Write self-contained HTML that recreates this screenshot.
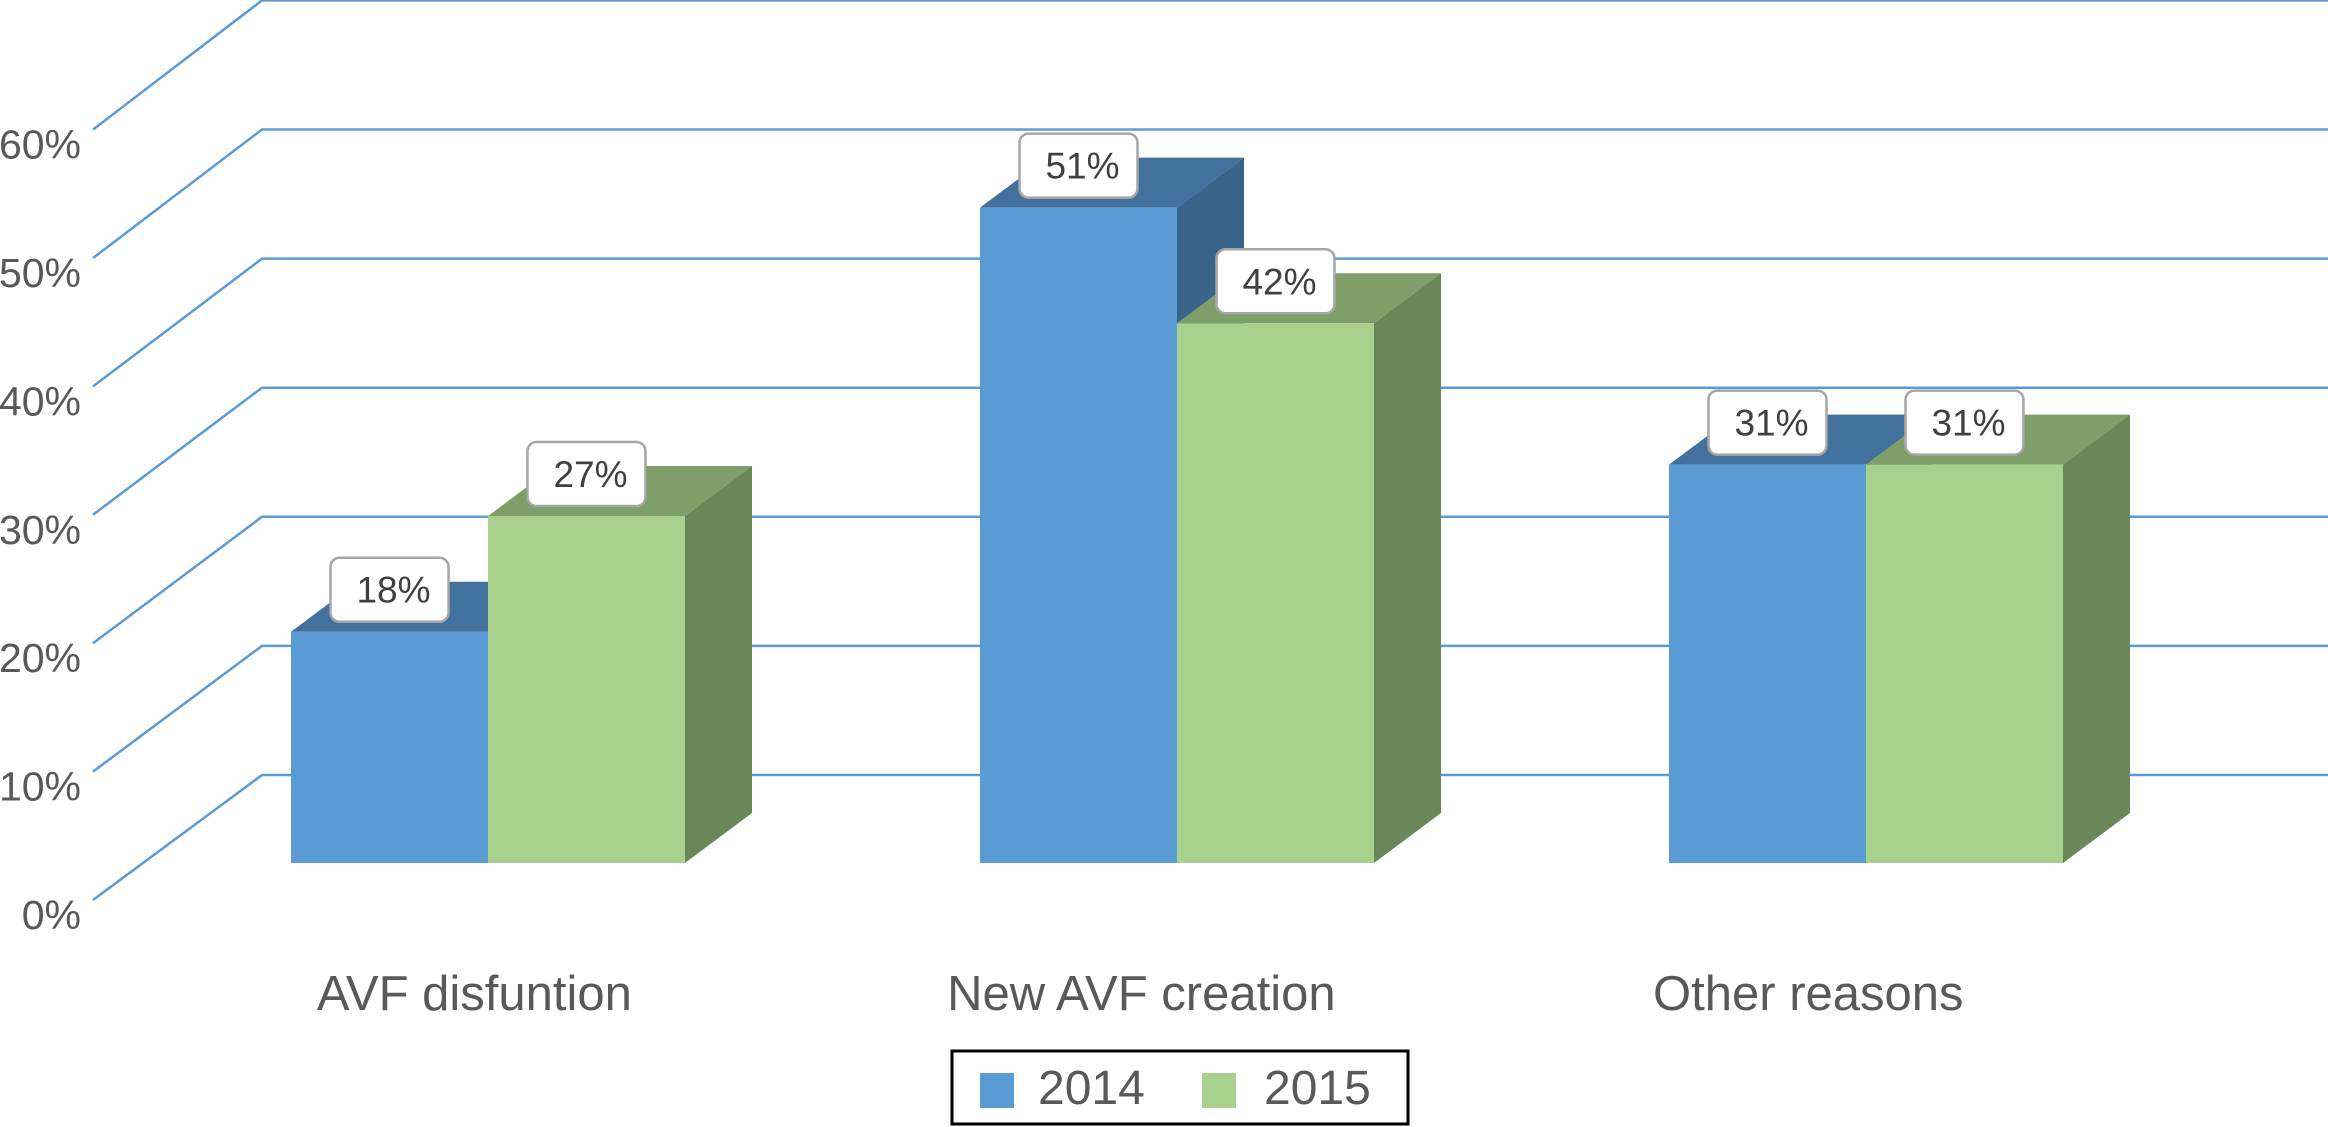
<!DOCTYPE html>
<html><head><meta charset="utf-8"><style>
html,body{margin:0;padding:0;background:#fff;}
svg{display:block;font-family:"Liberation Sans",Arial,sans-serif;}
</style></head><body>
<svg id="chart" width="2328" height="1127" viewBox="0 0 2328 1127" xmlns="http://www.w3.org/2000/svg"></svg>
<script>
const categories = ["AVF disfuntion", "New AVF creation", "Other reasons"];
const series2014 = [18, 51, 31];
const series2015 = [27, 42, 31];
const seriesNames = ["2014", "2015"];
const yTicks = [0, 10, 20, 30, 40, 50, 60];
const yTickLabels = ["0%", "10%", "20%", "30%", "40%", "50%", "60%"];

const NS = "http://www.w3.org/2000/svg";
const svg = document.getElementById("chart");
function mk(tag, attrs, parent) {
  const e = document.createElementNS(NS, tag);
  for (const k in attrs) e.setAttribute(k, attrs[k]);
  (parent || svg).appendChild(e);
  return e;
}
const frontY = v => 900 - v * 12.84;
const backY = v => 775 - v * 12.91;
const barY = v => 863 - v * 12.85;
const groupX = i => 291 + i * 689;
const BW = 197, DX = 67, DY = 50;

const grid = mk("g", {});


yTicks.forEach((v, i) => {
  const d = mk("polyline", {points: `93,${frontY(v)} 262,${backY(v)} 2328,${backY(v)}`, fill: "none", stroke: "#5b9bd5", "stroke-width": 2.5}, grid);
  
  
  const t = mk("text", {x: 81, y: frontY(v) + 29, "text-anchor": "end", "font-size": 41, fill: "#595959"});
  t.textContent = yTickLabels[i];
  
  
});

function bar(x, v, front, top, side, name) {
  const g = mk("g", {});
  
  
  const y = barY(v), b = barY(0);
  mk("polygon", {points: `${x+BW},${y} ${x+BW+DX},${y-DY} ${x+BW+DX},${b-DY} ${x+BW},${b}`, fill: side}, g);
  mk("polygon", {points: `${x},${y} ${x+DX},${y-DY} ${x+BW+DX},${y-DY} ${x+BW},${y}`, fill: top}, g);
  mk("rect", {x: x, y: y, width: BW, height: b - y, fill: front}, g);
  return g;
}
function label(cx, v) {
  const y = barY(v);
  const g = mk("g", {});
  
  
  const w = 118, h = 64;
  mk("rect", {x: cx - w/2, y: y - 10 - h, width: w, height: h, rx: 9, fill: "#fff", stroke: "#a6a6a6", "stroke-width": 2.5}, g);
  const t = mk("text", {x: cx + 4, y: y - 10 - h/2 + 13, "text-anchor": "middle", "font-size": 37, fill: "#404040"}, g);
  t.textContent = v + "%";
}
const labels = [];
categories.forEach((c, i) => {
  const x = groupX(i);
  bar(x, series2014[i], "#5b9bd5", "#41719c", "#3a6389", "bar-2014-" + i);
  bar(x + BW, series2015[i], "#a9d18e", "#7f9f6a", "#6a8759", "bar-2015-" + i);
  labels.push([x + BW/2, series2014[i]], [x + BW*1.5, series2015[i]]);
  const gc = x + BW;
  const t = mk("text", {x: 0.968 * gc + 2, y: 1010, "text-anchor": "middle", "font-size": 49, fill: "#595959"});
  t.textContent = c;
  
  
});
labels.forEach(l => label(l[0], l[1]));

const lg = mk("g", {});


mk("rect", {x: 952, y: 1051, width: 456, height: 73, fill: "#fff", stroke: "#000", "stroke-width": 3}, lg);
const lcol = ["#5b9bd5", "#a9d18e"];
seriesNames.forEach((n, i) => {
  const e = mk("g", {}, lg);
  
  
  mk("rect", {x: 980 + i * 222, y: 1073, width: 34, height: 35, fill: lcol[i]}, e);
  const t = mk("text", {x: 1038 + i * 226, y: 1104, "font-size": 48, fill: "#595959"}, e);
  t.textContent = n;
});
</script>
</body></html>
